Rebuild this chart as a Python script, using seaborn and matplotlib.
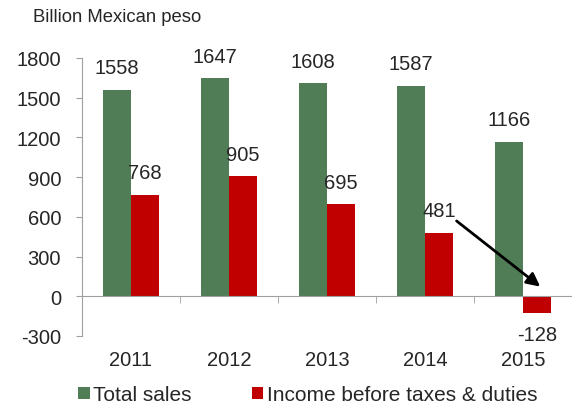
import matplotlib
matplotlib.use("Agg")
import matplotlib.pyplot as plt
import seaborn as sns
import pandas as pd

# data
years = ["2011", "2012", "2013", "2014", "2015"]
total_sales = [1558, 1647, 1608, 1587, 1166]
income = [768, 905, 695, 481, -128]
series_names = ["Total sales", "Income before taxes & duties"]
y_ticks = [-300, 0, 300, 600, 900, 1200, 1500, 1800]

green = "#507D55"
red = "#C00000"
grey = "#A0A0A0"
fs = 14.5

df = pd.DataFrame({
    "year": years * 2,
    "value": total_sales + income,
    "series": [series_names[0]] * len(years) + [series_names[1]] * len(years),
})

sns.set_style("white")
plt.rcParams["font.family"] = ["Liberation Sans", "DejaVu Sans"]

fig = plt.figure(figsize=(5.72, 4.06), dpi=100)
ax = fig.add_axes([82 / 572, 1 - 337 / 406, 1 - 82 / 572, (337 - 59) / 406])

sns.barplot(data=df, x="year", y="value", hue="series", palette=[green, red],
            width=0.57, saturation=1, linewidth=0, ax=ax)

ax.set_ylim(-300, 1800)
ax.set_xlim(-0.5, 4.388)
ax.set_yticks(y_ticks)
ax.set_yticklabels([str(t) for t in y_ticks], fontsize=fs)
ax.set_xlabel("")
ax.set_ylabel("")

for s in ["top", "right"]:
    ax.spines[s].set_visible(False)
ax.spines["left"].set_color(grey)
ax.spines["bottom"].set_color(grey)
ax.spines["bottom"].set_position(("data", 0))
ax.tick_params(axis="y", length=4, color=grey, direction="out", pad=11, left=True)

# year labels sit below the plot, boundary ticks on the zero line
ax.set_xticks(range(len(years)))
ax.set_xticklabels(years, fontsize=fs)
ax.tick_params(axis="x", which="major", length=0, pad=39)
ax.set_xticks([i - 0.5 for i in range(len(years) + 1)], minor=True)
ax.tick_params(axis="x", which="minor", length=5, color=grey, direction="out", bottom=True)

# value labels
for i, v in enumerate(total_sales):
    ax.annotate(str(v), (i - 0.1425, v), xytext=(0, 16), textcoords="offset points",
                ha="center", va="center", fontsize=fs)
for i, v in enumerate(income):
    off = 16 if v >= 0 else -15
    ax.annotate(str(v), (i + 0.1425, v), xytext=(0, off), textcoords="offset points",
                ha="center", va="center", fontsize=fs)

ax.annotate("", xy=(4.198, 60), xytext=(3.30, 582),
            arrowprops=dict(arrowstyle="-|>,head_length=0.8,head_width=0.4", color="black", lw=2),
            annotation_clip=False)

fig.text(33 / 572, 1 - 17 / 406, "Billion Mexican peso", fontsize=13.3, va="center", ha="left")

handles, labels = ax.get_legend_handles_labels()
ax.get_legend().remove()
fig.legend(handles, labels, loc="center", bbox_to_anchor=(0.538, 0.025), ncol=2,
           frameon=False, fontsize=15, handlelength=0.55, handleheight=0.55,
           handletextpad=0.15, columnspacing=2.9, borderpad=0)

fig.savefig("out.png", dpi=100)
